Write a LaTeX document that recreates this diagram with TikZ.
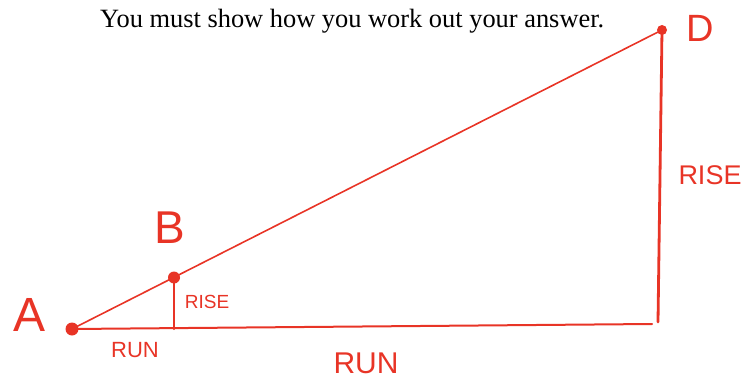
\documentclass[tikz,border=0pt]{standalone}
\usepackage{fontspec}
\setmainfont{Liberation Serif}
\newfontfamily\handfont{Liberation Sans}
\definecolor{penred}{RGB}{232,52,38}

\begin{document}
\begin{tikzpicture}[x=1pt,y=1pt,line cap=round,line join=round,
  dot/.style={circle,fill=penred,inner sep=0pt,minimum size=13pt},
  hand/.style={text=penred,inner sep=0pt,font=\handfont}]
\useasboundingbox (0,0) rectangle (744,381);
\node[font=\fontsize{26.4}{30}\selectfont,anchor=base west,inner sep=0pt] (task) at (100,353) {You must show how you work out your answer.};
% points
\node[dot] (A) at (72,52) {};
\node[dot,minimum size=12pt] (B) at (174,103.5) {};
\node[dot,minimum size=10pt] (D) at (662,351) {};
\coordinate (Bfoot) at (174,52);
\coordinate (Cfoot) at (658,59);
\coordinate (Cend) at (652,57);
% lines
\draw[penred,line width=1.6pt] (A.center) -- (D.center);
\draw[penred,line width=2pt] (A.center) -- (Cend);
\draw[penred,line width=2.8pt] (D.center) -- (Cfoot);
\draw[penred,line width=2.2pt] (B.center) -- (Bfoot);
% labels
\node[hand,font=\handfont\fontsize{48}{48}\selectfont] (labA) at (30,66) {A};
\node[hand,font=\handfont\fontsize{46}{46}\selectfont] (labB) at (170,153) {B};
\node[hand,font=\handfont\fontsize{38}{38}\selectfont] (labD) at (700,353) {D};
\node[hand,font=\handfont\fontsize{19}{19}\selectfont] (riseB) at (207,79) {RISE};
\node[hand,font=\handfont\fontsize{22}{22}\selectfont] (runB) at (135,31) {RUN};
\node[hand,font=\handfont\fontsize{30}{30}\selectfont] (runD) at (366,18) {RUN};
\node[hand,font=\handfont\fontsize{27}{27}\selectfont] (riseD) at (710,206) {RISE};
\end{tikzpicture}
\end{document}
